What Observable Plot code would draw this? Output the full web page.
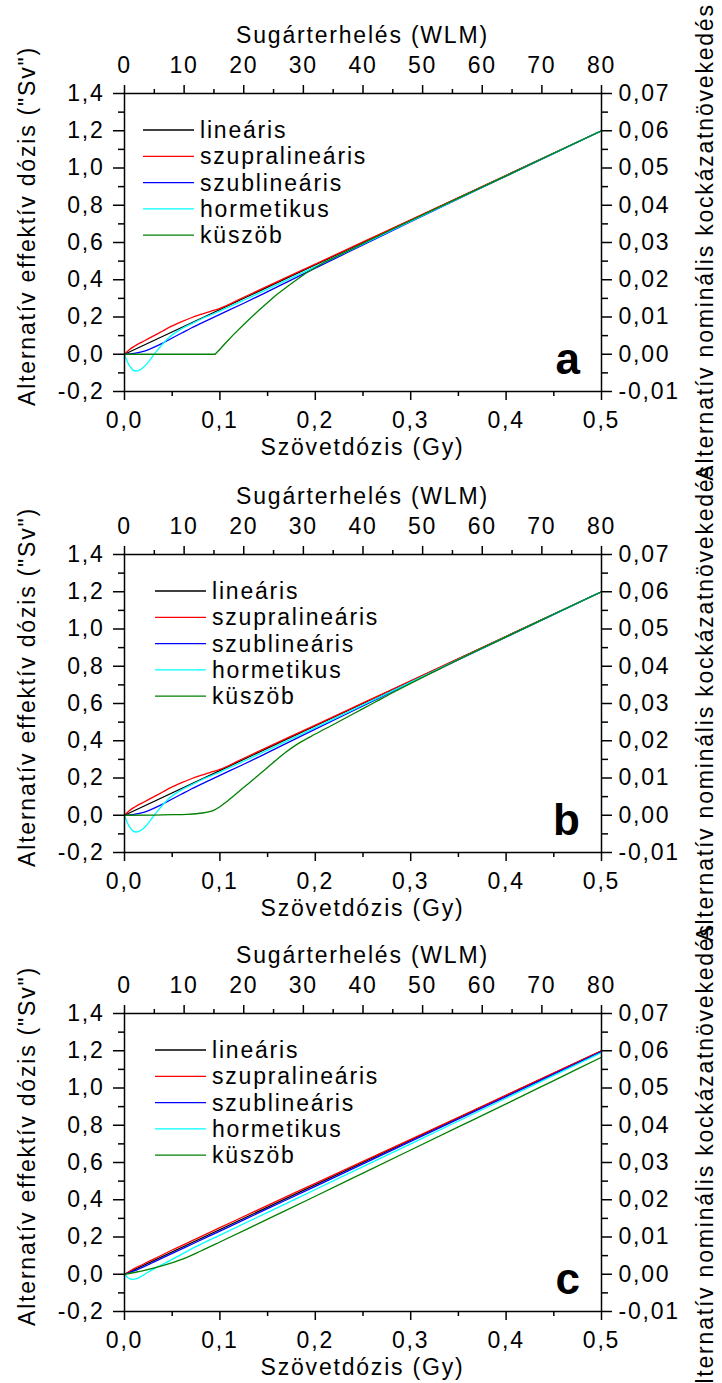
<!DOCTYPE html>
<html><head><meta charset="utf-8">
<script src="https://cdn.jsdelivr.net/npm/d3@7"></script>
<script src="https://cdn.jsdelivr.net/npm/@observablehq/plot@0.6"></script>
<style>
body{margin:0;background:#fff;}
#chart{width:722px;}
#chart svg{display:block;overflow:visible;}
</style></head><body><div id="chart"></div>
<script>
// ---- labels ----
const seriesNames = ["lineáris","szupralineáris","szublineáris","hormetikus","küszöb"];
const seriesColors = ["#000000","#ff0000","#0000ff","#00ffff","#008000"];
const panelLetters = ["a","b","c"];
const topTitle = "Sugárterhelés (WLM)";
const bottomTitle = "Szövetdózis (Gy)";
const leftTitle = "Alternatív effektív dózis (\"Sv\")";
const rightTitle = "Alternatív nominális kockázatnövekedés";

// ---- ticks ----
const doseTicks = [0,0.1,0.2,0.3,0.4,0.5];
const doseMinorTicks = [0.05,0.15,0.25,0.35,0.45];
const wlmTicks = [0,10,20,30,40,50,60,70,80];
const wlmMinorTicks = [5,15,25,35,45,55,65,75];
const sievertTicks = [-0.2,0,0.2,0.4,0.6,0.8,1.0,1.2,1.4];
const sievertMinorTicks = [-0.1,0.1,0.3,0.5,0.7,0.9,1.1,1.3];
const riskTicks = [-0.01,0,0.01,0.02,0.03,0.04,0.05,0.06,0.07];
const riskMinorTicks = [-0.005,0.005,0.015,0.025,0.035,0.045,0.055,0.065];
const WLM_PER_GY = 160;   // 80 WLM <-> 0.5 Gy
const SV_PER_RISK = 20;   // 0.07 <-> 1.4 Sv

// ---- data: [dose (Gy), effective dose (Sv)] ----
const a_linear = [[0,0],[0.5,1.2]];
const a_supra = [[0,0],[0.005,0.024],[0.01,0.042],[0.02,0.07],[0.03,0.097],[0.04,0.125],[0.05,0.152],[0.06,0.175],[0.07,0.196],[0.08,0.214],[0.09,0.23],[0.1,0.246],[0.125,0.306],[0.15,0.366],[0.2,0.484],[0.25,0.603],[0.3,0.722],[0.4,0.961],[0.5,1.2]];
const a_sub = [[0,0],[0.01,0.005],[0.02,0.016],[0.03,0.036],[0.04,0.06],[0.05,0.087],[0.06,0.114],[0.07,0.141],[0.08,0.166],[0.09,0.19],[0.1,0.214],[0.125,0.274],[0.15,0.336],[0.2,0.462],[0.25,0.587],[0.3,0.712],[0.4,0.956],[0.5,1.2]];
const a_horm = [[0,0],[0.003,-0.04],[0.006,-0.068],[0.009,-0.085],[0.012,-0.09],[0.015,-0.087],[0.02,-0.07],[0.025,-0.042],[0.03,-0.008],[0.035,0.025],[0.04,0.055],[0.045,0.082],[0.05,0.104],[0.06,0.137],[0.07,0.163],[0.08,0.188],[0.09,0.21],[0.1,0.232],[0.125,0.29],[0.15,0.35],[0.2,0.47],[0.3,0.715],[0.4,0.958],[0.5,1.2]];
const a_thresh = [[0,0],[0.095,0],[0.1,0.027],[0.105,0.055],[0.114,0.104],[0.125,0.16],[0.14,0.232],[0.159,0.318],[0.175,0.38],[0.19,0.435],[0.21,0.495],[0.235,0.556],[0.26,0.62],[0.3,0.718],[0.35,0.838],[0.4,0.958],[0.45,1.079],[0.5,1.2]];

const b_linear = [[0,0],[0.5,1.2]];
const b_supra = [[0,0],[0.005,0.024],[0.01,0.042],[0.02,0.07],[0.03,0.097],[0.04,0.125],[0.05,0.152],[0.06,0.175],[0.07,0.196],[0.08,0.214],[0.09,0.23],[0.1,0.246],[0.125,0.306],[0.15,0.366],[0.2,0.484],[0.25,0.603],[0.3,0.722],[0.4,0.961],[0.5,1.2]];
const b_sub = [[0,0],[0.01,0.005],[0.02,0.016],[0.03,0.036],[0.04,0.06],[0.05,0.087],[0.06,0.114],[0.07,0.141],[0.08,0.166],[0.09,0.19],[0.1,0.214],[0.125,0.274],[0.15,0.336],[0.2,0.462],[0.25,0.587],[0.3,0.712],[0.4,0.956],[0.5,1.2]];
const b_horm = [[0,0],[0.003,-0.04],[0.006,-0.068],[0.009,-0.085],[0.012,-0.09],[0.015,-0.087],[0.02,-0.07],[0.025,-0.042],[0.03,-0.008],[0.035,0.025],[0.04,0.055],[0.045,0.082],[0.05,0.104],[0.06,0.137],[0.07,0.163],[0.08,0.188],[0.09,0.21],[0.1,0.232],[0.125,0.29],[0.15,0.35],[0.2,0.47],[0.3,0.715],[0.4,0.958],[0.5,1.2]];
const b_thresh = [[0,0],[0.03,0.001],[0.05,0.003],[0.065,0.005],[0.075,0.008],[0.082,0.012],[0.088,0.018],[0.094,0.028],[0.1,0.046],[0.107,0.072],[0.114,0.102],[0.122,0.137],[0.131,0.175],[0.14,0.213],[0.149,0.252],[0.159,0.296],[0.169,0.338],[0.18,0.378],[0.2,0.436],[0.22,0.49],[0.24,0.545],[0.26,0.6],[0.28,0.655],[0.3,0.708],[0.33,0.785],[0.36,0.861],[0.4,0.958],[0.45,1.079],[0.5,1.2]];

const c_linear = [[0,0],[0.5,1.2]];
const c_supra = [[0,0],[0.01,0.03],[0.02,0.055],[0.03,0.08],[0.05,0.13],[0.075,0.19],[0.1,0.25],[0.15,0.37],[0.2,0.488],[0.3,0.724],[0.4,0.962],[0.5,1.2]];
const c_sub = [[0,0],[0.01,0.018],[0.02,0.04],[0.03,0.064],[0.05,0.112],[0.075,0.172],[0.1,0.232],[0.15,0.352],[0.2,0.472],[0.3,0.713],[0.4,0.954],[0.5,1.195]];
const c_horm = [[0,0],[0.003,-0.016],[0.006,-0.025],[0.009,-0.028],[0.013,-0.024],[0.018,-0.01],[0.025,0.012],[0.035,0.04],[0.05,0.08],[0.075,0.148],[0.1,0.21],[0.15,0.332],[0.2,0.455],[0.3,0.7],[0.4,0.945],[0.5,1.19]];
const c_thresh = [[0,0],[0.02,0.02],[0.04,0.046],[0.06,0.08],[0.08,0.125],[0.1,0.173],[0.15,0.296],[0.2,0.419],[0.25,0.543],[0.3,0.667],[0.35,0.791],[0.4,0.915],[0.45,1.04],[0.5,1.165]];

const panels = [
  {letter: panelLetters[0], series: [a_linear,a_supra,a_sub,a_horm,a_thresh], legendX: 143, h: 461},
  {letter: panelLetters[1], series: [b_linear,b_supra,b_sub,b_horm,b_thresh], legendX: 155, h: 459},
  {letter: panelLetters[2], series: [c_linear,c_supra,c_sub,c_horm,c_thresh], legendX: 155, h: 463}
];

const FONT = "'Liberation Sans', Arial, Helvetica, sans-serif";
const fmt = (n) => (d) => d.toFixed(n).replace(".", ",");
const r4 = (v) => +v.toFixed(6);

function overlay(p) {
  return (index, scales, values, dims) => {
    const {width, height, marginTop: mt, marginLeft: ml, marginRight: mr, marginBottom: mb} = dims;
    const cx = (ml + width - mr) / 2, cy = (mt + height - mb) / 2;
    const g = d3.create("svg:g").attr("font-family", FONT).attr("font-size", 23).attr("fill", "black").attr("text-anchor", "start");
    g.append("text").attr("x", cx).attr("y", mt - 50).attr("text-anchor", "middle").text(topTitle);
    g.append("text").attr("x", cx).attr("y", height - mb + 64).attr("text-anchor", "middle").text(bottomTitle);
    g.append("text").attr("transform", `translate(${ml - 89},${cy - 16}) rotate(-90)`).attr("text-anchor", "middle").text(leftTitle);
    g.append("text").attr("transform", `translate(${width - mr + 112},${cy}) rotate(-90)`).attr("text-anchor", "middle").text(rightTitle);
    g.append("text").attr("x", width - mr - 21).attr("y", height - mb - 17).attr("text-anchor", "end")
      .attr("font-weight", "bold").attr("font-size", 44).style("letter-spacing", "0px").text(p.letter);
    seriesNames.forEach((name, i) => {
      const y = mt + 37 + i * 26.3;
      g.append("line").attr("x1", p.legendX).attr("x2", p.legendX + 51).attr("y1", y).attr("y2", y)
        .attr("stroke", seriesColors[i]).attr("stroke-width", 1.3);
      g.append("text").attr("x", p.legendX + 57).attr("y", y + 8).attr("text-anchor", "start").text(name);
    });
    return g.node();
  };
}

const root = document.getElementById("chart");
panels.forEach((p) => {
  const mt = 93, plotH = 298;
  const chart = Plot.plot({
    width: 722, height: p.h,
    marginTop: mt, marginBottom: p.h - mt - plotH, marginLeft: 124, marginRight: 121,
    style: `font-family: ${FONT}; font-size: 23px; letter-spacing: 1.8px; overflow: visible; background: transparent; color: black;`,
    x: {domain: [0, 0.5]},
    y: {domain: [-0.2, 1.4]},
    marks: [
      ...p.series.map((s, i) => Plot.line(s, {x: (d) => d[0], y: (d) => d[1], stroke: seriesColors[i], strokeWidth: 1.3,
        curve: (i === 4 && p.letter === "a") ? "linear" : "monotone-x"})),
      Plot.frame({stroke: "black", strokeWidth: 1.5}),
      Plot.axisX({anchor: "bottom", ticks: doseTicks, tickSize: 9, tickPadding: 11, tickFormat: fmt(1), strokeWidth: 1.5, label: null}),
      Plot.axisX({anchor: "bottom", ticks: doseMinorTicks, tickSize: 5, tickFormat: () => "", strokeWidth: 1.5, label: null}),
      Plot.axisX({anchor: "top", ticks: wlmTicks.map((w) => r4(w / WLM_PER_GY)), tickSize: 9, tickPadding: 12,
        tickFormat: (d) => String(Math.round(d * WLM_PER_GY)), strokeWidth: 1.5, label: null}),
      Plot.axisX({anchor: "top", ticks: wlmMinorTicks.map((w) => r4(w / WLM_PER_GY)), tickSize: 5, tickFormat: () => "", strokeWidth: 1.5, label: null}),
      Plot.axisY({anchor: "left", ticks: sievertTicks, tickSize: 11, tickPadding: 9, tickFormat: fmt(1), strokeWidth: 1.5, label: null}),
      Plot.axisY({anchor: "left", ticks: sievertMinorTicks, tickSize: 6, tickFormat: () => "", strokeWidth: 1.5, label: null}),
      Plot.axisY({anchor: "right", ticks: riskTicks.map((r) => r4(r * SV_PER_RISK)), tickSize: 10, tickPadding: 7,
        tickFormat: (d) => fmt(2)(d / SV_PER_RISK), strokeWidth: 1.5, label: null}),
      Plot.axisY({anchor: "right", ticks: riskMinorTicks.map((r) => r4(r * SV_PER_RISK)), tickSize: 6, tickFormat: () => "", strokeWidth: 1.5, label: null}),
      overlay(p)
    ]
  });
  root.appendChild(chart);
});
</script>
</body></html>
